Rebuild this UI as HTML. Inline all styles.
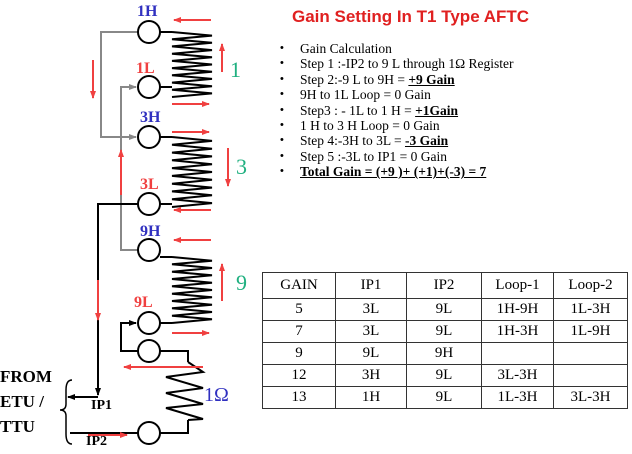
<!DOCTYPE html>
<html><head><meta charset="utf-8"><style>
body{margin:0;width:632px;height:454px;background:#fff;overflow:hidden;position:relative;font-family:"Liberation Serif",serif}
.t{position:absolute;white-space:nowrap}
table{position:absolute;left:262px;top:272px;border-collapse:collapse;font-family:"Liberation Serif",serif;font-size:15px}
td{border:1px solid #333;text-align:center;padding:0;height:21px}
ul{position:absolute;left:280px;top:41px;margin:0;padding:0;list-style:none;font-size:13.5px;line-height:15.4px}
li{position:relative;padding-left:20px}
li:before{content:"•";position:absolute;left:0;font-family:"Liberation Sans",sans-serif;font-size:11px}
b.u{text-decoration:underline}
</style></head><body>
<svg id="s" width="632" height="454" style="position:absolute;left:0;top:0">
<defs>
<marker id="ab" markerWidth="8" markerHeight="8" refX="7" refY="4" orient="auto" markerUnits="userSpaceOnUse"><path d="M0,1 L8,4 L0,7z" fill="#000"/></marker>
<marker id="ag" markerWidth="8" markerHeight="8" refX="7" refY="4" orient="auto" markerUnits="userSpaceOnUse"><path d="M0,1 L8,4 L0,7z" fill="#888"/></marker>
<marker id="ar" markerWidth="8" markerHeight="8" refX="7" refY="4" orient="auto" markerUnits="userSpaceOnUse"><path d="M0,1 L8,4 L0,7z" fill="#f04040"/></marker>
</defs>
<g fill="none" stroke="#888" stroke-width="2">
<polyline points="138,32 101,32 101,137 136,137" marker-end="url(#ag)"/>
<polyline points="138,250 121,250 121,87 136,87" marker-end="url(#ag)"/>
</g>
<g fill="none" stroke="#000" stroke-width="2">
<polyline points="138,204 98,204 98,395" marker-end="url(#ab)"/>
<polyline points="98,397 68,397" marker-end="url(#ab)"/>
<polyline points="138,351 121,351 121,323 136,323" marker-end="url(#ab)"/>
<polyline points="160,351 188,351 188,362"/>
<polyline points="160,433 188,433 188,420"/>
<line x1="70" y1="433" x2="138" y2="433"/>
<path d="M72,380 Q66,380 66,390 L66,404 Q66,410 60,410 Q66,410 66,416 L66,434 Q66,444 72,444" stroke-width="1.5"/>
<path id="c1"/><path id="c3"/><path id="c9"/><path id="c0"/>
<line x1="160" y1="32" x2="172" y2="32"/><line x1="160" y1="87" x2="172" y2="87"/>
<line x1="160" y1="137" x2="172" y2="137"/><line x1="160" y1="204" x2="172" y2="204"/>
<line x1="160" y1="257" x2="172" y2="257"/><line x1="160" y1="323" x2="172" y2="323"/>
</g>
<g fill="#fff" stroke="#000" stroke-width="2">
<circle cx="149" cy="32" r="11"/><circle cx="149" cy="87" r="11"/><circle cx="149" cy="137" r="11"/>
<circle cx="149" cy="204" r="11"/><circle cx="149" cy="250" r="11"/><circle cx="149" cy="323" r="11"/>
<circle cx="149" cy="351" r="11"/><circle cx="149" cy="433" r="11"/>
</g>
<g stroke="#f04040" stroke-width="2" marker-end="url(#ar)">
<line x1="211" y1="20" x2="174" y2="20"/><line x1="222" y1="72" x2="222" y2="44"/>
<line x1="172" y1="104" x2="209" y2="104"/><line x1="172" y1="132" x2="209" y2="132"/>
<line x1="228" y1="148" x2="228" y2="186"/><line x1="211" y1="210" x2="174" y2="210"/>
<line x1="211" y1="240" x2="174" y2="240"/><line x1="222" y1="301" x2="222" y2="264"/>
<line x1="172" y1="333" x2="209" y2="333"/><line x1="203" y1="367" x2="124" y2="367"/>
<line x1="93" y1="60" x2="93" y2="98"/><line x1="98" y1="280" x2="98" y2="320"/>
<line x1="121" y1="195" x2="121" y2="150"/><line x1="88" y1="435" x2="127" y2="435"/>
</g>
</svg>
<script>
function coil(id,y0,y1,n,xa,xb){var d="M"+xa+","+y0,h=(y1-y0)/n;for(var i=1;i<=n;i++){var x=i%2?xb:xa;d+=" L"+x+","+(y0+h*i).toFixed(1);}document.getElementById(id).setAttribute("d",d);}
coil("c1",32,97,18,172,212);coil("c3",137,207,18,172,212);coil("c9",257,323,18,172,212);
var d="M188,362 L203,372 L166,377 L203,388 L166,393 L203,404 L166,408 L203,419 L188,420";
document.getElementById("c0").setAttribute("d",d);
</script>
<div class="t" style="left:137px;top:3px;color:#3030c0;font-weight:bold;font-size:16px">1H</div>
<div class="t" style="left:136px;top:60px;color:#f04040;font-weight:bold;font-size:16px">1L</div>
<div class="t" style="left:140px;top:109px;color:#3030c0;font-weight:bold;font-size:16px">3H</div>
<div class="t" style="left:140px;top:176px;color:#f04040;font-weight:bold;font-size:16px">3L</div>
<div class="t" style="left:140px;top:223px;color:#3030c0;font-weight:bold;font-size:16px">9H</div>
<div class="t" style="left:134px;top:294px;color:#f04040;font-weight:bold;font-size:16px">9L</div>
<div class="t" style="left:230px;top:57px;color:#20b080;font-size:22px">1</div>
<div class="t" style="left:236px;top:154px;color:#20b080;font-size:22px">3</div>
<div class="t" style="left:236px;top:270px;color:#20b080;font-size:22px">9</div>
<div class="t" style="left:204px;top:384px;color:#3030c0;font-size:20px">1Ω</div>
<div class="t" style="left:0;top:364px;font-weight:bold;font-size:17px;line-height:25px">FROM<br>ETU /<br>TTU</div>
<div class="t" style="left:91px;top:398px;font-weight:bold;font-size:14px">IP1</div>
<div class="t" style="left:86px;top:434px;font-weight:bold;font-size:14px">IP2</div>
<div class="t" style="left:292px;top:7px;color:#e02020;font-weight:bold;font-size:17px;font-family:'Liberation Sans',sans-serif">Gain Setting In T1 Type AFTC</div>
<ul>
<li>Gain Calculation</li>
<li>Step 1 :-IP2 to 9 L through 1Ω Register</li>
<li>Step 2:-9 L to 9H = <b class="u">+9 Gain</b></li>
<li>9H to 1L Loop = 0 Gain</li>
<li>Step3 : - 1L to 1 H = <b class="u">+1Gain</b></li>
<li>1 H to 3 H Loop = 0 Gain</li>
<li>Step 4:-3H to 3L = <b class="u">-3 Gain</b></li>
<li>Step 5 :-3L to IP1 = 0 Gain</li>
<li><b class="u">Total Gain = (+9 )+ (+1)+(-3) = 7</b></li>
</ul>
<table>
<tr style="height:26px"><td style="width:72px">GAIN</td><td style="width:70px">IP1</td><td style="width:74px">IP2</td><td style="width:71px">Loop-1</td><td style="width:73px">Loop-2</td></tr>
<tr><td>5</td><td>3L</td><td>9L</td><td>1H-9H</td><td>1L-3H</td></tr>
<tr><td>7</td><td>3L</td><td>9L</td><td>1H-3H</td><td>1L-9H</td></tr>
<tr><td>9</td><td>9L</td><td>9H</td><td></td><td></td></tr>
<tr><td>12</td><td>3H</td><td>9L</td><td>3L-3H</td><td></td></tr>
<tr><td>13</td><td>1H</td><td>9L</td><td>1L-3H</td><td>3L-3H</td></tr>
</table>
</body></html>
